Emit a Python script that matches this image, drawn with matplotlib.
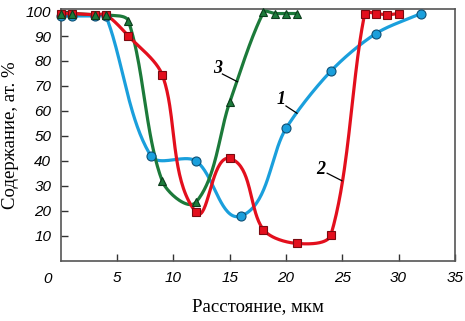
import numpy as np
import matplotlib
matplotlib.use("Agg")
import matplotlib.pyplot as plt

# Data
x1 = [0, 1, 3, 4, 8, 12, 16, 20, 24, 28, 32]
y1 = [98, 98, 98, 98, 42, 40, 18, 53, 76, 91, 99]

x2 = [0, 1, 3, 4, 6, 9, 12, 15, 18, 21, 24, 27, 28, 29, 30]
y2 = [99, 99, 98.5, 98.5, 90, 74.5, 19.5, 41, 12.5, 7, 10.5, 99, 99, 98.5, 99]

x3 = [0, 1, 3, 4, 6, 9, 12, 15, 18, 19, 20, 21]
y3 = [99, 99, 98.5, 98.5, 96, 32, 23.5, 63.5, 99.5, 99, 99, 99]

xticks = [5, 10, 15, 20, 25, 30, 35]
yticks = [10, 20, 30, 40, 50, 60, 70, 80, 90, 100]

BLUE = "#1a9fdc"
RED = "#e30f1d"
GREEN = "#1c7a3a"

XMAX, YMAX = 35, 101
W_PX, H_PX = 394.0, 252.5


def smooth(xs, ys, n=40, k=0.3):
    # Bezier spline: tangent direction from neighbours, handle length from segment length
    px = np.asarray(xs, float) / XMAX * W_PX
    py = np.asarray(ys, float) / YMAX * H_PX
    P = np.column_stack([px, py])
    N = len(P)
    T = np.zeros_like(P)
    for i in range(N):
        a = P[max(i - 1, 0)]
        b = P[min(i + 1, N - 1)]
        d = b - a
        T[i] = d / max(np.linalg.norm(d), 1e-9)
    out = []
    for i in range(N - 1):
        p1, p2 = P[i], P[i + 1]
        L = np.linalg.norm(p2 - p1)
        c1 = p1 + T[i] * L * k
        c2 = p2 - T[i + 1] * L * k
        t = np.linspace(0, 1, n)[:, None]
        seg = ((1 - t) ** 3) * p1 + 3 * ((1 - t) ** 2) * t * c1 + 3 * (1 - t) * t ** 2 * c2 + t ** 3 * p2
        out.append(seg if i == 0 else seg[1:])
    S = np.vstack(out)
    return S[:, 0] / W_PX * XMAX, S[:, 1] / H_PX * YMAX


fig = plt.figure(figsize=(4.65, 3.21), dpi=100)
ax = fig.add_axes([0.131, 0.187, 0.847, 0.7865])

lw = 2.3
for xs, ys, c, z in [(x1, y1, BLUE, 2), (x3, y3, GREEN, 3), (x2, y2, RED, 4)]:
    sx, sy = smooth(xs, ys)
    ax.plot(sx, sy, color=c, lw=lw, zorder=z, solid_capstyle="round", clip_on=False)

ax.plot(x1, y1, ls="none", marker="o", ms=6.5, mfc=BLUE, mec="#0d4f75", mew=0.8, zorder=5, clip_on=False)
ax.plot(x2, y2, ls="none", marker="s", ms=5.5, mfc=RED, mec="#7a0a10", mew=0.8, zorder=6, clip_on=False)
ax.plot(x3, y3, ls="none", marker="^", ms=6, mfc=GREEN, mec="#0b3d1c", mew=0.8, zorder=7, clip_on=False)

ax.set_xlim(0, XMAX)
ax.set_ylim(0, YMAX)
ax.set_xticks(xticks)
ax.set_yticks(yticks)
ax.tick_params(direction="in", length=5, width=1.0, color="#333333",
               labelsize=11, pad=7)
for lab in ax.get_xticklabels() + ax.get_yticklabels():
    lab.set_fontfamily("Liberation Sans")
    lab.set_fontstyle("italic")
ax.tick_params(axis="x", pad=7)

for s in ax.spines.values():
    s.set_color("#555555")
    s.set_linewidth(1.2)

ax.annotate("0", xy=(0, 0), xycoords="data", xytext=(-13, -18), textcoords="offset pixels",
            ha="center", va="center", fontsize=11, fontfamily="Liberation Sans", fontstyle="italic")

ax.set_xlabel("Расстояние, мкм", fontfamily="Liberation Serif", fontsize=13.5, labelpad=10)
ax.set_ylabel("Содержание, ат. %", fontfamily="Liberation Serif", fontsize=13.5, labelpad=5)

# Curve labels with leader lines
for txt, tx, ty, lx0, ly0, lx1, ly1 in [
    ("3", 13.9, 77.1, 14.35, 74.8, 15.69, 71.7),
    ("1", 19.6, 64.4, 20.0, 62.0, 20.98, 59.1),
    ("2", 23.1, 36.7, 23.66, 35.1, 24.97, 32.1),
]:
    ax.text(tx, ty, txt, ha="center", va="center", fontsize=13, fontfamily="Liberation Serif",
            fontstyle="italic", fontweight="bold", zorder=8)
    ax.plot([lx0, lx1], [ly0, ly1], color="black", lw=0.9, zorder=8)

fig.savefig("out.png", dpi=100)
